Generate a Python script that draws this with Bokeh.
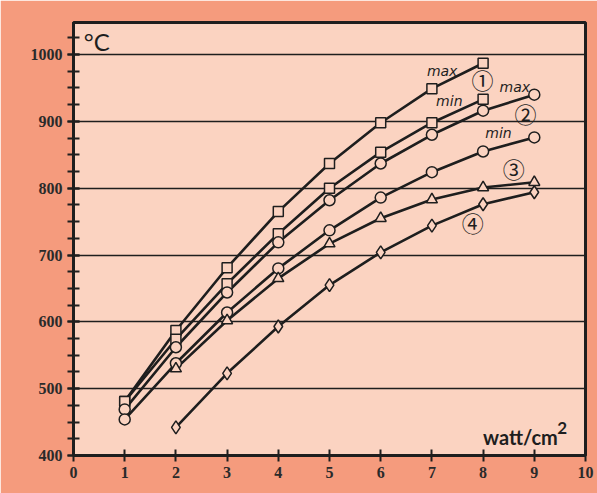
from bokeh.plotting import figure
from bokeh.models import Range1d, SingleIntervalTicker, FixedTicker, Label
from bokeh.embed import file_html
from bokeh.resources import INLINE

# ---- data ----
x_1to8 = [1, 2, 3, 4, 5, 6, 7, 8]
x_1to9 = [1, 2, 3, 4, 5, 6, 7, 8, 9]
x_2to9 = [2, 3, 4, 5, 6, 7, 8, 9]
c1_max = [481, 587, 681, 765, 837, 898, 949, 987]
c1_min = [481, 574, 657, 732, 800, 854, 898, 933]
c2_max = [469, 562, 644, 719, 782, 837, 880, 916, 940]
c2_min = [454, 538, 614, 680, 737, 786, 824, 855, 876]
c3 = [530, 602, 665, 717, 755, 783, 801, 809]
c4 = [442, 523, 593, 655, 704, 744, 776, 794]
x_ticks = [0, 1, 2, 3, 4, 5, 6, 7, 8, 9, 10]

OUTER = "#F59B7D"
INNER = "#FBD3C1"
INK = "#1e1e1e"

p = figure(width=597, height=493, output_backend="svg", toolbar_location=None,
           x_range=Range1d(0, 10), y_range=Range1d(400, 1048),
           min_border_left=73, min_border_top=22, min_border_right=12, min_border_bottom=38)
p.background_fill_color = INNER
p.border_fill_color = OUTER
p.outline_line_color = INK
p.outline_line_width = 3

p.xgrid.visible = False
p.ygrid.grid_line_color = INK
p.ygrid.grid_line_width = 1.5

p.yaxis.ticker = SingleIntervalTicker(interval=100, num_minor_ticks=4)
p.xaxis.ticker = FixedTicker(ticks=x_ticks)
for ax in (p.xaxis, p.yaxis):
    ax.axis_line_color = INK
    ax.axis_line_width = 3
    ax.major_tick_line_color = INK
    ax.major_tick_line_width = 2
    ax.major_tick_in = 6
    ax.major_tick_out = 6
    ax.minor_tick_line_color = INK
    ax.minor_tick_line_width = 2
    ax.minor_tick_in = 6
    ax.minor_tick_out = 6
    ax.major_label_text_font = "Liberation Serif"
    ax.major_label_text_font_style = "bold"
    ax.major_label_text_font_size = "16px"
    ax.major_label_text_color = "#2a2a2a"
    ax.major_label_standoff = 5
p.xaxis.minor_tick_line_color = None

LW = 2.6
MS = dict(fill_color=INNER, line_color=INK, line_width=1.5)

p.line(x_1to8, c1_max, line_color=INK, line_width=LW)
p.line(x_1to8, c1_min, line_color=INK, line_width=LW)
p.line(x_1to9, c2_max, line_color=INK, line_width=LW)
p.line(x_1to9, c2_min, line_color=INK, line_width=LW)
p.line(x_2to9, c3, line_color=INK, line_width=LW)
p.line(x_2to9, c4, line_color=INK, line_width=LW)

p.scatter(x_1to8, c1_max, marker="square", size=10, **MS)
p.scatter(x_1to8, c1_min, marker="square", size=10, **MS)
p.scatter(x_1to9, c2_max, marker="circle", size=11, **MS)
p.scatter(x_1to9, c2_min, marker="circle", size=11, **MS)
p.scatter(x_2to9, c3, marker="triangle", size=11, **MS)
p.scatter(x_2to9, c4, marker="diamond", size=13, **MS)

def lab(x, y, t, size, font="DejaVu Sans", style="normal", align="center"):
    p.add_layout(Label(x=x, y=y, text=t, text_font=font, text_font_style=style,
                       text_font_size=size, text_align=align, text_baseline="middle",
                       text_color=INK))

lab(7.2, 976, "max", "14px", style="italic")
lab(7.99, 963, "①", "22px", font="Noto Sans CJK JP")
lab(8.62, 952, "max", "14px", style="italic")
lab(7.34, 931, "min", "14px", style="italic")
lab(8.83, 912, "②", "22px", font="Noto Sans CJK JP")
lab(8.3, 882, "min", "14px", style="italic")
lab(8.6, 830, "③", "22px", font="Noto Sans CJK JP")
lab(7.8, 749, "④", "22px", font="Noto Sans CJK JP")

lab(0.2, 1019, "°C", "24px", font="Lato", align="left")
lab(8.0, 427, "watt/cm", "20px", font="Lato", style="bold", align="left")
lab(9.45, 441, "2", "17px", font="Lato", style="bold", align="left")

open("out.html", "w").write(file_html(p, INLINE))
